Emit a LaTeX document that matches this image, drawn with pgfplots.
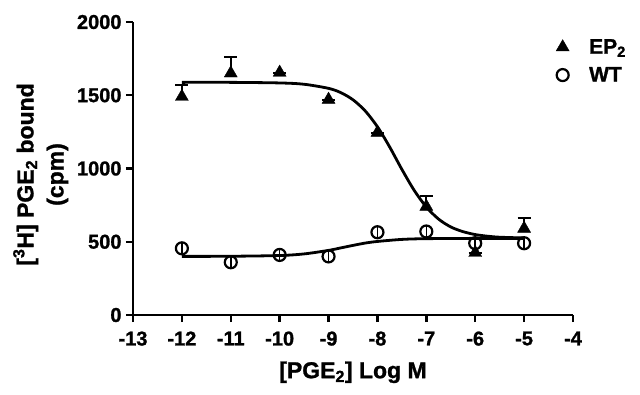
\documentclass[border=0pt]{standalone}
\usepackage{fontspec}
\setmainfont{Liberation Sans Bold}[FakeBold=1.2]
\usepackage{pgfplots}
\pgfplotsset{compat=1.18}
\begin{document}
\begin{tikzpicture}[x=1bp,y=1bp]
\path[use as bounding box] (-133bp,-80bp) rectangle (507bp,315bp);
\begin{axis}[
  scale only axis, width=440bp, height=293bp,
  at={(0,0)}, anchor=south west,
  xmin=-13, xmax=-4, ymin=0, ymax=2000,
  xtick={-13,-12,...,-4}, ytick={0,500,1000,1500,2000},
  axis lines=left, axis line style={line width=2.8bp, -},
  tick style={line width=2.4bp, black},
  tick align=outside, major tick length=7bp,
  /pgf/number format/assume math mode=true,
  /pgf/number format/set thousands separator={},
  tick label style={font=\fontsize{20bp}{22bp}\selectfont},
  xticklabel style={yshift=-6bp},
  yticklabel style={xshift=-1bp},
  xlabel={[PGE\textsubscript{2}] Log M},
  xlabel style={font=\fontsize{23bp}{26bp}\selectfont, yshift=-9bp},
  ylabel={[\textsuperscript{3}H] PGE\textsubscript{2} bound\\(cpm)},
  ylabel style={font=\fontsize{23bp}{30bp}\selectfont, align=center, yshift=2bp, xshift=-6bp},
  legend style={draw=none, fill=none, at={(1.0,1.0)}, anchor=north west, xshift=-20bp, yshift=-13bp,
    font=\fontsize{21bp}{23bp}\selectfont, row sep=8bp,
    /tikz/every odd column/.append style={column sep=18bp}},
  legend cell align=left,
  clip=false,
]
% fitted curves
\addplot[line width=2.8bp, black, smooth, forget plot] coordinates {
(-12,1588) (-11,1588) (-10,1584) (-9.5,1575) (-9,1547) (-8.75,1518) (-8.5,1469)
(-8.25,1393) (-8,1285) (-7.75,1147) (-7.5,994) (-7.25,852) (-7,737) (-6.75,655)
(-6.5,601) (-6.25,569) (-6,549) (-5.75,538) (-5.5,531) (-5,526)};
\addplot[line width=2.8bp, black, smooth, forget plot] coordinates {
(-12,400) (-11,401) (-10,406) (-9.5,417) (-9,441) (-8.75,458) (-8.5,475)
(-8.25,491) (-8,502) (-7.5,516) (-7,521) (-6,523) (-5,523)};
% EP2
\addplot[only marks, mark=triangle*, mark size=7.5bp, black,
  error bars/.cd, y dir=plus, y explicit,
  error bar style={line width=2bp}, error mark options={rotate=90, mark size=6.5bp, line width=2bp}]
  coordinates {
  (-12,1490) +- (0,80)
  (-11,1650) +- (0,110)
  (-10,1655) +- (0,0)
  (-9,1470) +- (0,0)
  (-8,1245) +- (0,0)
  (-7,740) +- (0,75)
  (-6,425) +- (0,0)
  (-5,590) +- (0,70)
};
\addlegendentry{EP\textsubscript{2}}
% WT
\addplot[only marks, mark=o, mark size=6bp, black, mark options={line width=2.2bp, fill=white},
  error bars/.cd, y dir=both, y explicit,
  error bar style={line width=1.6bp}, error mark=none]
  coordinates {
  (-12,455) +- (0,35)
  (-11,360) +- (0,35)
  (-10,410) +- (0,35)
  (-9,400) +- (0,35)
  (-8,565) +- (0,35)
  (-7,570) +- (0,35)
  (-6,490) +- (0,35)
  (-5,490) +- (0,35)
};
\addlegendentry{WT}
\end{axis}
\end{tikzpicture}
\end{document}
